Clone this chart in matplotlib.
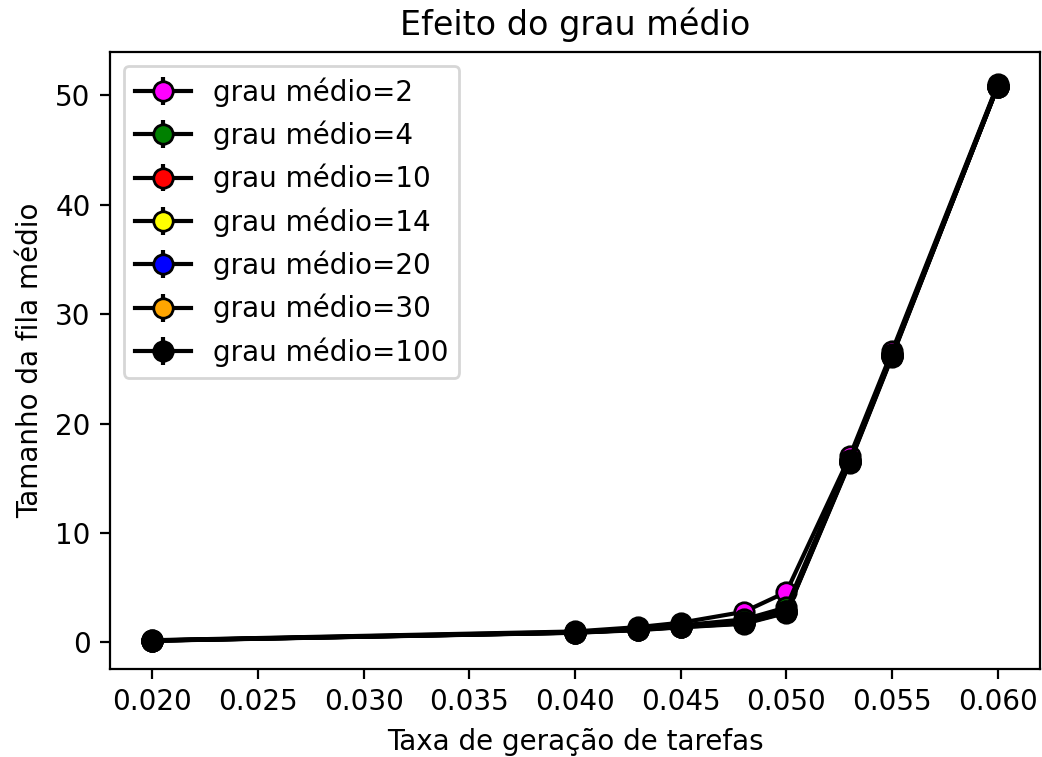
import matplotlib
matplotlib.use("Agg")
import matplotlib.pyplot as plt

# taxa de geração de tarefas
taxas = [0.020, 0.040, 0.043, 0.045, 0.048, 0.050, 0.053, 0.055, 0.060]

graus = [2, 4, 10, 14, 20, 30, 100]
cores = ["magenta", "green", "red", "yellow", "blue", "orange", "black"]

fila_g2 = [0.20, 1.00, 1.40, 1.80, 2.80, 4.60, 17.0, 26.6, 51.0]
fila_g4 = [0.18, 0.95, 1.25, 1.55, 2.10, 3.20, 16.7, 26.4, 50.9]
fila_g10 = [0.17, 0.92, 1.20, 1.50, 1.90, 2.90, 16.6, 26.3, 50.9]
fila_g14 = [0.17, 0.90, 1.18, 1.45, 1.85, 2.85, 16.6, 26.3, 50.8]
fila_g20 = [0.16, 0.90, 1.17, 1.42, 1.80, 2.80, 16.5, 26.2, 50.8]
fila_g30 = [0.16, 0.89, 1.15, 1.40, 1.75, 2.75, 16.5, 26.2, 50.8]
fila_g100 = [0.15, 0.88, 1.12, 1.38, 1.70, 2.70, 16.4, 26.1, 50.8]

erro_g2 = [0.02, 0.05, 0.08, 0.10, 0.15, 0.25, 0.5, 0.6, 0.4]
erro_g100 = [0.02, 0.04, 0.06, 0.08, 0.10, 0.15, 0.4, 0.5, 0.3]

series = [fila_g2, fila_g4, fila_g10, fila_g14, fila_g20, fila_g30, fila_g100]
erros = [erro_g2, erro_g100, erro_g100, erro_g100, erro_g100, erro_g100, erro_g100]

fig = plt.figure(figsize=(1042 / 200, 757 / 200), dpi=200)
ax = fig.add_axes([0.1056, 0.1162, 0.8924, 0.8151])

for g, cor, y, e in zip(graus, cores, series, erros):
    ax.errorbar(taxas, y, yerr=e, color="black", ecolor="black",
                marker="o", markersize=7, markerfacecolor=cor,
                markeredgecolor="black", linewidth=1.5,
                label=f"grau médio={g}")

ax.set_xticks([0.020, 0.025, 0.030, 0.035, 0.040, 0.045, 0.050, 0.055, 0.060])
ax.set_yticks([0, 10, 20, 30, 40, 50])
ax.set_xlabel("Taxa de geração de tarefas")
ax.set_ylabel("Tamanho da fila médio")
ax.set_title("Efeito do grau médio")
ax.legend(loc="upper left")

fig.savefig("out.png", dpi=200)
